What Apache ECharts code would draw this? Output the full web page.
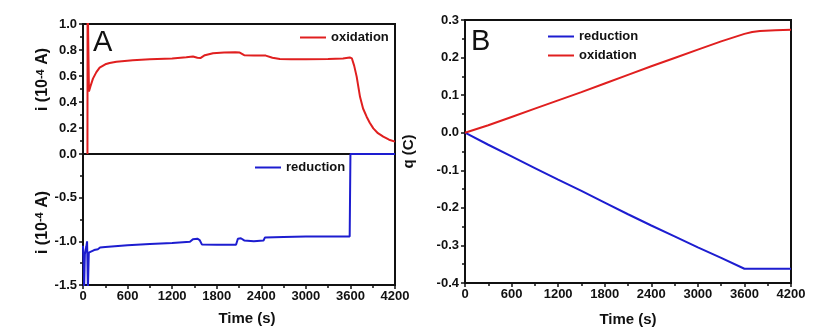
<!DOCTYPE html>
<html><head><meta charset="utf-8">
<script src="https://cdn.jsdelivr.net/npm/echarts@6/dist/echarts.min.js"></script>
<style>html,body{margin:0;padding:0;background:#fff}#c{width:827px;height:336px}</style>
</head><body><div id="c"></div>
<script>
// Panel A (top): oxidation current, 10^-4 A
const oxCurrentTime = [60, 62, 70, 80, 100, 134, 180, 224, 300, 358, 450, 670, 900, 1200, 1390, 1480, 1540, 1580, 1640, 1750, 1900, 2050, 2110, 2170, 2300, 2460, 2550, 2650, 2800, 3000, 3300, 3500, 3590, 3620, 3650, 3684, 3729, 3770, 3818, 3860, 3908, 3970, 4042, 4120, 4200];
const oxCurrentValue = [0, 1.3, 0.9, 0.48, 0.52, 0.58, 0.63, 0.665, 0.69, 0.70, 0.71, 0.722, 0.728, 0.735, 0.745, 0.75, 0.74, 0.738, 0.76, 0.775, 0.78, 0.782, 0.78, 0.76, 0.758, 0.757, 0.74, 0.73, 0.728, 0.728, 0.73, 0.735, 0.743, 0.735, 0.68, 0.595, 0.44, 0.35, 0.287, 0.24, 0.197, 0.16, 0.133, 0.11, 0.095];
// Panel A (bottom): reduction current, 10^-4 A
const redCurrentTime = [0, 8, 15, 22, 25, 35, 45, 55, 62, 66, 74, 78, 100, 150, 200, 230, 300, 600, 900, 1200, 1440, 1480, 1540, 1570, 1600, 1800, 2060, 2085, 2125, 2170, 2300, 2430, 2450, 2700, 3000, 3300, 3590, 3600, 4200];
const redCurrentValue = [-1.05, -1.25, -1.55, -1.55, -1.15, -1.1, -1.06, -1.0, -1.02, -1.55, -1.55, -1.13, -1.11, -1.1, -1.09, -1.07, -1.065, -1.045, -1.03, -1.02, -1.005, -0.975, -0.97, -0.985, -1.035, -1.04, -1.04, -0.97, -0.965, -0.99, -1.0, -0.99, -0.955, -0.95, -0.945, -0.945, -0.945, 0, 0];
// Panel B: charge, C
const chargeTime = [0, 300, 600, 900, 1200, 1500, 1800, 2100, 2400, 2700, 3000, 3300, 3600, 3700, 3800, 4000, 4200];
const oxCharge = [0, 0.02, 0.042, 0.064, 0.086, 0.108, 0.131, 0.154, 0.177, 0.199, 0.221, 0.243, 0.263, 0.268, 0.271, 0.273, 0.274];
const redCharge = [0, -0.032, -0.063, -0.094, -0.125, -0.155, -0.186, -0.217, -0.247, -0.276, -0.305, -0.333, -0.362, -0.362, -0.362, -0.362, -0.362];

const seriesNames = ['oxidation', 'reduction'];
const panelLetters = ['A', 'B'];
const timeRange = [0, 4200, 600];
const iTopRange = [0, 1, 0.2];
const iBottomRange = [-1.5, 0, 0.5];
const qRange = [-0.4, 0.3, 0.1];

const zip = (t, v) => t.map((x, i) => [x, v[i]]);
const RED = '#e01f1f', BLUE = '#1d1dd0', INK = '#111';
const FONT = '"Liberation Sans", Arial, sans-serif';
const tickLab = {fontFamily: FONT, fontWeight: 'bold', fontSize: 13, color: INK};
const nameStyle = {fontFamily: FONT, fontWeight: 'bold', fontSize: 15, color: INK};
const supRich = {sup: {fontFamily: FONT, fontWeight: 'bold', fontSize: 11, color: INK, verticalAlign: 'top'}};
const iNameStyle = (pad) => ({fontFamily: FONT, fontWeight: 'bold', fontSize: 16, color: INK, padding: pad, rich: supRich});
const axLine = {onZero: false, lineStyle: {color: INK, width: 2}};
const tick = {show: true, inside: false, length: 4, lineStyle: {color: INK, width: 1.5}};
const minor = {show: true, splitNumber: 2, length: 3, lineStyle: {color: INK, width: 1.5}};
const fmt1 = v => v.toFixed(1);
const fmt0 = v => String(Math.round(v));

function xAx(gi, labels, gap, pad) {
  return {gridIndex: gi, type: 'value', min: timeRange[0], max: timeRange[1], interval: timeRange[2],
    axisLine: axLine, splitLine: {show: false}, minorSplitLine: {show: false},
    axisTick: labels ? tick : {show: false},
    minorTick: labels ? minor : {show: false},
    axisLabel: labels ? Object.assign({margin: 5, formatter: fmt0}, tickLab) : {show: false},
    name: labels ? 'Time (s)' : '', nameLocation: 'middle', nameGap: gap || 26,
    nameTextStyle: Object.assign({padding: pad || 0}, nameStyle)};
}
function yAx(gi, range, name, ns, gap, extra) {
  return Object.assign({gridIndex: gi, type: 'value', min: range[0], max: range[1], interval: range[2],
    axisLine: axLine, splitLine: {show: false}, minorSplitLine: {show: false}, axisTick: tick, minorTick: minor,
    axisLabel: Object.assign({margin: 6, formatter: fmt1}, tickLab),
    name: name, nameLocation: 'middle', nameGap: gap, nameTextStyle: ns}, extra || {});
}
const gridBase = {show: true, borderColor: INK, borderWidth: 2, backgroundColor: 'transparent'};
const legendBase = {icon: 'rect', itemWidth: 26, itemHeight: 2, padding: 0, selectedMode: false,
  textStyle: {fontFamily: FONT, fontWeight: 'bold', fontSize: 13, color: INK}};
const lineS = (name, data, xi, yi, color) => ({type: 'line', name: name, data: data, xAxisIndex: xi, yAxisIndex: yi,
  showSymbol: false, symbol: 'none', clip: true, lineStyle: {color: color, width: 2}, itemStyle: {color: color}, z: 3});

const chart = echarts.init(document.getElementById('c'), null, {renderer: 'canvas'});
chart.setOption({
  animation: false,
  backgroundColor: '#fff',
  grid: [
    Object.assign({left: 83, top: 24, width: 312, height: 130}, gridBase),
    Object.assign({left: 83, top: 154, width: 312, height: 131}, gridBase),
    Object.assign({left: 465, top: 20, width: 326, height: 263}, gridBase)
  ],
  xAxis: [xAx(0, false), xAx(1, true, 26, [0, 0, 0, 16]), xAx(2, true, 29)],
  yAxis: [
    yAx(0, iTopRange, 'i (10{sup|-4} A)', iNameStyle([0, 0, 0, 19]), 32),
    yAx(1, iBottomRange, 'i (10{sup|-4} A)', iNameStyle([0, 6, 0, 0]), 32, {axisLabel: Object.assign({margin: 6, formatter: fmt1, showMaxLabel: false}, tickLab)}),
    yAx(2, qRange, 'q (C)', nameStyle, 49)
  ],
  legend: [
    Object.assign({data: [seriesNames[0]], left: 300, top: 31}, legendBase),
    Object.assign({data: [seriesNames[1]], left: 255, top: 161}, legendBase),
    Object.assign({data: [seriesNames[1], seriesNames[0]], left: 548, top: 30, orient: 'vertical', itemGap: 6}, legendBase)
  ],
  graphic: [
    {type: 'text', x: 93, y: 43, style: {text: panelLetters[0], font: '29px "Liberation Sans", Arial, sans-serif', fill: INK, verticalAlign: 'middle', textVerticalAlign: 'middle'}},
    {type: 'text', x: 471, y: 42, style: {text: panelLetters[1], font: '29px "Liberation Sans", Arial, sans-serif', fill: INK, verticalAlign: 'middle', textVerticalAlign: 'middle'}}
  ],
  series: [
    lineS(seriesNames[0], zip(oxCurrentTime, oxCurrentValue), 0, 0, RED),
    lineS(seriesNames[1], zip(redCurrentTime, redCurrentValue), 1, 1, BLUE),
    lineS(seriesNames[1], zip(chargeTime, redCharge), 2, 2, BLUE),
    lineS(seriesNames[0], zip(chargeTime, oxCharge), 2, 2, RED)
  ]
});
</script></body></html>
